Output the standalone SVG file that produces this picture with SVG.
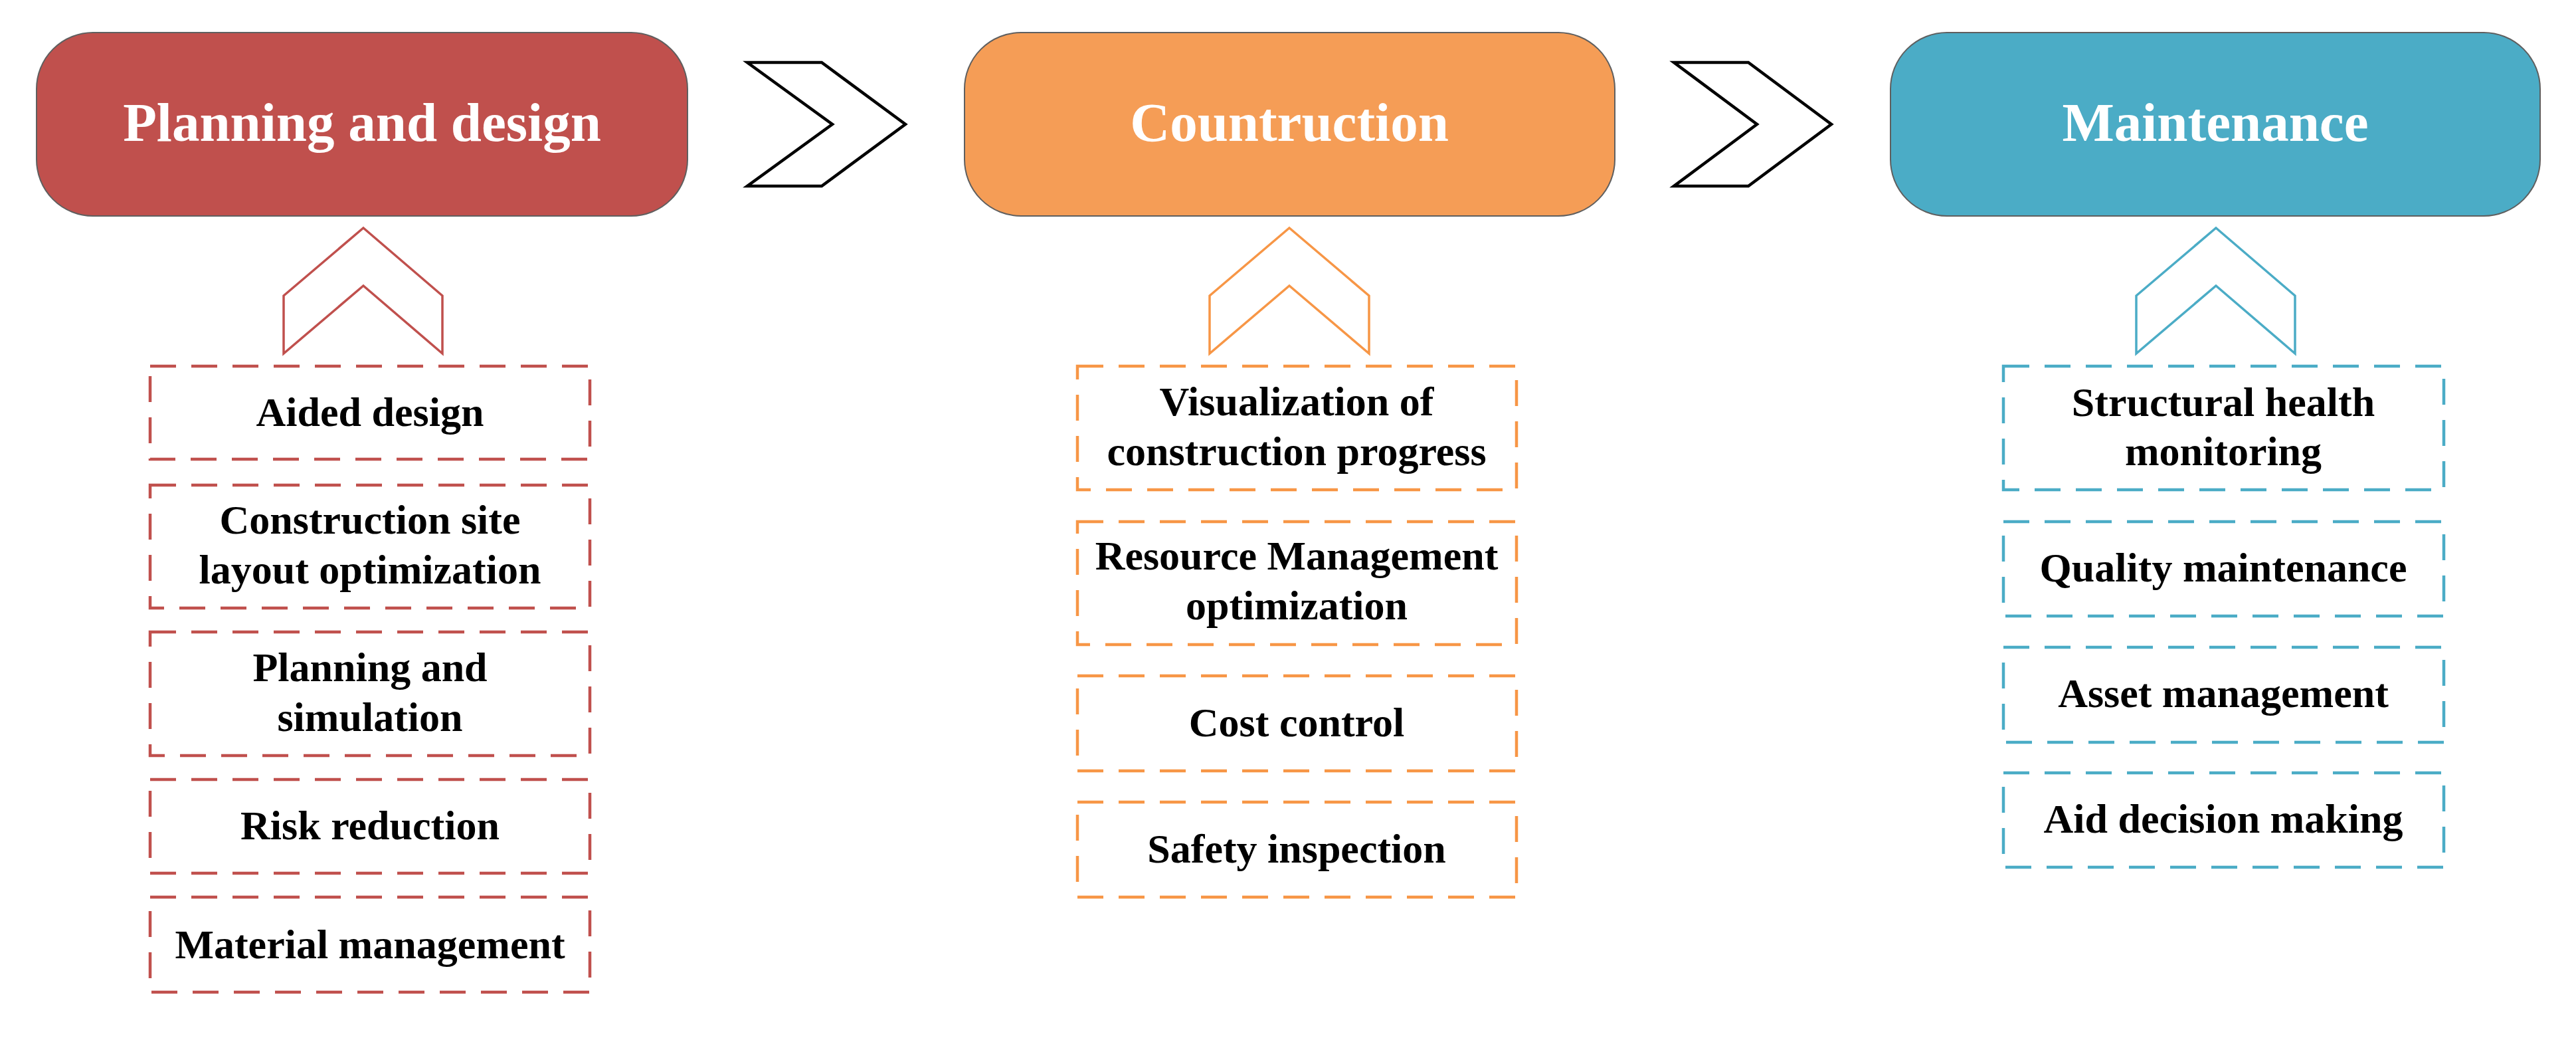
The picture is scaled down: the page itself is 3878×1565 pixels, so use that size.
<svg xmlns="http://www.w3.org/2000/svg" width="3878" height="1565" viewBox="0 0 3878 1565">
<style>
.hdr{stroke:#5f5f5f;stroke-width:2}
.htxt{font-family:"Liberation Serif","Times New Roman",serif;font-weight:bold;font-size:83px;fill:#ffffff;text-anchor:middle}
.itxt{font-family:"Liberation Serif","Times New Roman",serif;font-weight:bold;font-size:62px;fill:#000000;text-anchor:middle}
.dbox{fill:none;stroke-width:4.5;stroke-dasharray:39 23}
.red{stroke:#c0504d}
.org{stroke:#f79646}
.teal{stroke:#4bacc6}
.chev{fill:#ffffff;stroke:#000000;stroke-width:4.5;stroke-linejoin:miter}
.up{fill:#ffffff;stroke-width:3.5;stroke-linejoin:miter}
</style>
<rect width="3878" height="1565" fill="#ffffff"/>

<g id="connectors">
<polygon class="chev" points="1125,94 1237,94 1363,187 1237,280 1125,280 1253,187"/>
<polygon class="chev" points="2520,94 2632,94 2757,187 2632,280 2520,280 2645,187"/>
<polygon class="up red" points="547,343 666,445 666,532 547,430 427,532 427,445"/>
<polygon class="up org" points="1941,343 2061,445 2061,532 1941,430 1821,532 1821,445"/>
<polygon class="up teal" points="3336,343 3455,445 3455,532 3336,430 3216,532 3216,445"/>
</g>

<g id="planning">
<rect class="hdr" x="55" y="49" width="980" height="276" rx="85" ry="85" fill="#c0504d"/>
<text class="htxt" x="545" y="212">Planning and design</text>
</g>
<g id="construction">
<rect class="hdr" x="1452" y="49" width="979" height="276" rx="85" ry="85" fill="#f59d56"/>
<text class="htxt" x="1941" y="212">Countruction</text>
</g>
<g id="maintenance">
<rect class="hdr" x="2846" y="49" width="978" height="276" rx="85" ry="85" fill="#4bacc6"/>
<text class="htxt" x="3335" y="212">Maintenance</text>
</g>

<g id="aided-design">
<rect class="dbox red" x="226" y="551" width="662" height="140"/>
<text class="itxt" x="557" y="641">Aided design</text>
</g>
<g id="site-layout">
<rect class="dbox red" x="226" y="730" width="662" height="185"/>
<text class="itxt" x="557" y="803">Construction site</text>
<text class="itxt" x="557" y="878">layout optimization</text>
</g>
<g id="planning-simulation">
<rect class="dbox red" x="226" y="951" width="662" height="186"/>
<text class="itxt" x="557" y="1025">Planning and</text>
<text class="itxt" x="557" y="1100">simulation</text>
</g>
<g id="risk-reduction">
<rect class="dbox red" x="226" y="1173" width="662" height="141"/>
<text class="itxt" x="557" y="1263">Risk reduction</text>
</g>
<g id="material-management">
<rect class="dbox red" x="226" y="1350" width="662" height="143"/>
<text class="itxt" x="557" y="1442">Material management</text>
</g>

<g id="visualization">
<rect class="dbox org" x="1622" y="551" width="661" height="186"/>
<text class="itxt" x="1952" y="625">Visualization of</text>
<text class="itxt" x="1952" y="700">construction progress</text>
</g>
<g id="resource-management">
<rect class="dbox org" x="1622" y="785" width="661" height="185"/>
<text class="itxt" x="1952" y="857">Resource Management</text>
<text class="itxt" x="1952" y="932">optimization</text>
</g>
<g id="cost-control">
<rect class="dbox org" x="1622" y="1017" width="661" height="143"/>
<text class="itxt" x="1952" y="1108">Cost control</text>
</g>
<g id="safety-inspection">
<rect class="dbox org" x="1622" y="1207" width="661" height="143"/>
<text class="itxt" x="1952" y="1298">Safety inspection</text>
</g>

<g id="structural-health">
<rect class="dbox teal" x="3016" y="551" width="663" height="186"/>
<text class="itxt" x="3347" y="626">Structural health</text>
<text class="itxt" x="3347" y="700">monitoring</text>
</g>
<g id="quality-maintenance">
<rect class="dbox teal" x="3016" y="785" width="663" height="142"/>
<text class="itxt" x="3347" y="875">Quality maintenance</text>
</g>
<g id="asset-management">
<rect class="dbox teal" x="3016" y="974" width="663" height="143"/>
<text class="itxt" x="3347" y="1064">Asset management</text>
</g>
<g id="aid-decision">
<rect class="dbox teal" x="3016" y="1163" width="663" height="142"/>
<text class="itxt" x="3347" y="1253">Aid decision making</text>
</g>
</svg>
